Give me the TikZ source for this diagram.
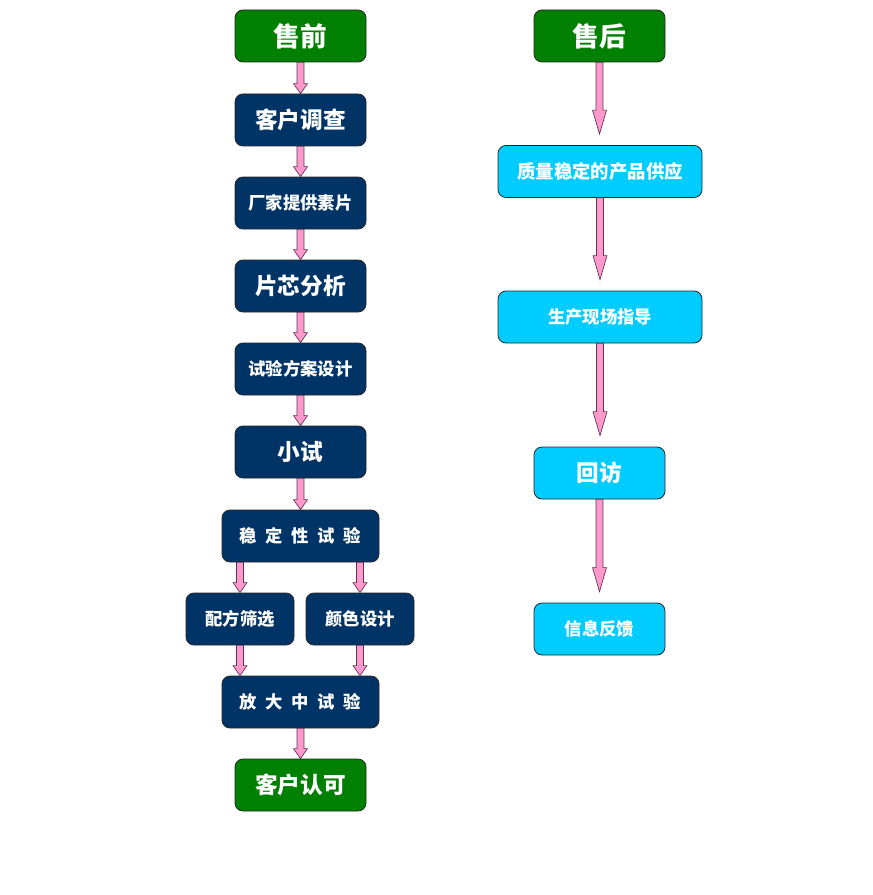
\documentclass[tikz,border=0pt]{standalone}
\usepackage{fontspec}
\newfontfamily\cjk{Noto Sans CJK SC}
\usetikzlibrary{calc}
\definecolor{gr}{RGB}{0,128,0}
\definecolor{nv}{RGB}{0,51,102}
\definecolor{cy}{RGB}{0,204,255}
\definecolor{pk}{RGB}{255,153,204}
\definecolor{pkline}{RGB}{90,50,90}
\tikzset{
  box/.style={draw=black!85, line width=0.6pt, rounded corners=6pt, text=white,
    inner sep=0pt, minimum height=39pt, align=center},
  stdw/.style={minimum width=98.25pt},
  widew/.style={minimum width=117.75pt},
  smallw/.style={minimum width=81pt},
  cyw/.style={minimum width=153pt},
  greenbox/.style={box, fill=gr},
  navybox/.style={box, fill=nv},
  cyanbox/.style={box, fill=cy},
  big/.style={font=\cjk\bfseries\fontsize{20pt}{22pt}\selectfont},
  mid/.style={font=\cjk\bfseries\fontsize{17pt}{19pt}\selectfont},
  sml/.style={font=\cjk\bfseries\fontsize{13pt}{15pt}\selectfont},
  smlb/.style={font=\cjk\bfseries\fontsize{13.8pt}{15pt}\selectfont},
  arrowst/.style={fill=pk, draw=pkline, line width=0.5pt, line join=miter},
}
% block arrow: #1 start, #2 tip, #3 head length
\newcommand\barrow[3]{%
  \path let \p1=(#1), \p2=(#2) in
    [arrowst] (\x1-2.6pt,\y1) -- (\x1-2.6pt,\y2+#3) -- (\x1-5.25pt,\y2+#3)
    -- (\x1,\y2) -- (\x1+5.25pt,\y2+#3) -- (\x1+2.6pt,\y2+#3)
    -- (\x1+2.6pt,\y1) -- cycle;}
\newcommand\gp{\hspace{6.5pt}}
\newcommand\tx[1]{\raisebox{-1.2pt}{#1}}
\begin{document}
\begin{tikzpicture}[x=0.75pt,y=-0.75pt]
\useasboundingbox[fill=white] (0,0) rectangle (872,895);
% left column
\node[greenbox,stdw,big] (sq) at (300.5,36) {\tx{售前}};
\node[navybox,stdw,mid] (kh) at (300.5,120) {\tx{客户调查}};
\node[navybox,stdw,sml] (cj) at (300.5,203) {\tx{厂家提供素片}};
\node[navybox,stdw,mid] (px) at (300.5,286) {\tx{片芯分析}};
\node[navybox,stdw,sml] (sy) at (300.5,369) {\tx{试验方案设计}};
\node[navybox,stdw,mid] (xs) at (300.5,452) {\tx{小试}};
\node[navybox,widew,sml] (wd) at (300.5,536) {\tx{稳\gp 定\gp 性\gp 试\gp 验}};
\node[navybox,smallw,sml] (pf) at (240,619) {\tx{配方筛选}};
\node[navybox,smallw,sml] (ys) at (360,619) {\tx{颜色设计}};
\node[navybox,widew,sml] (fd) at (300.5,702) {\tx{放\gp 大\gp 中\gp 试\gp 验}};
\node[greenbox,stdw,mid] (kr) at (300.5,785) {\tx{客户认可}};
% right column
\node[greenbox,stdw,big] (sh) at (599.5,36) {\tx{售后}};
\node[cyanbox,cyw,smlb] (zl) at (600,171.5) {\tx{质量稳定的产品供应}};
\node[cyanbox,cyw,sml] (sc) at (600,317) {\tx{生产现场指导}};
\node[cyanbox,stdw,mid] (hf) at (599.5,473) {\tx{回访}};
\node[cyanbox,stdw,sml] (xx) at (599.5,629) {\tx{信息反馈}};
% left arrows
\barrow{sq.south}{kh.north}{7.5pt}
\barrow{kh.south}{cj.north}{7.5pt}
\barrow{cj.south}{px.north}{7.5pt}
\barrow{px.south}{sy.north}{7.5pt}
\barrow{sy.south}{xs.north}{7.5pt}
\barrow{xs.south}{wd.north}{7.5pt}
\barrow{pf.north |- wd.south}{pf.north}{7.5pt}
\barrow{ys.north |- wd.south}{ys.north}{7.5pt}
\barrow{pf.south}{pf.south |- fd.north}{7.5pt}
\barrow{ys.south}{ys.south |- fd.north}{7.5pt}
\barrow{fd.south}{kr.north}{7.5pt}
% right arrows
\barrow{sh.south}{$(zl.north)+(0,-11)$}{18pt}
\barrow{zl.south}{$(sc.north)+(0,-11)$}{18pt}
\barrow{sc.south}{$(hf.north)+(0,-11)$}{18pt}
\barrow{hf.south}{$(xx.north)+(0,-11)$}{18pt}
\end{tikzpicture}
\end{document}
